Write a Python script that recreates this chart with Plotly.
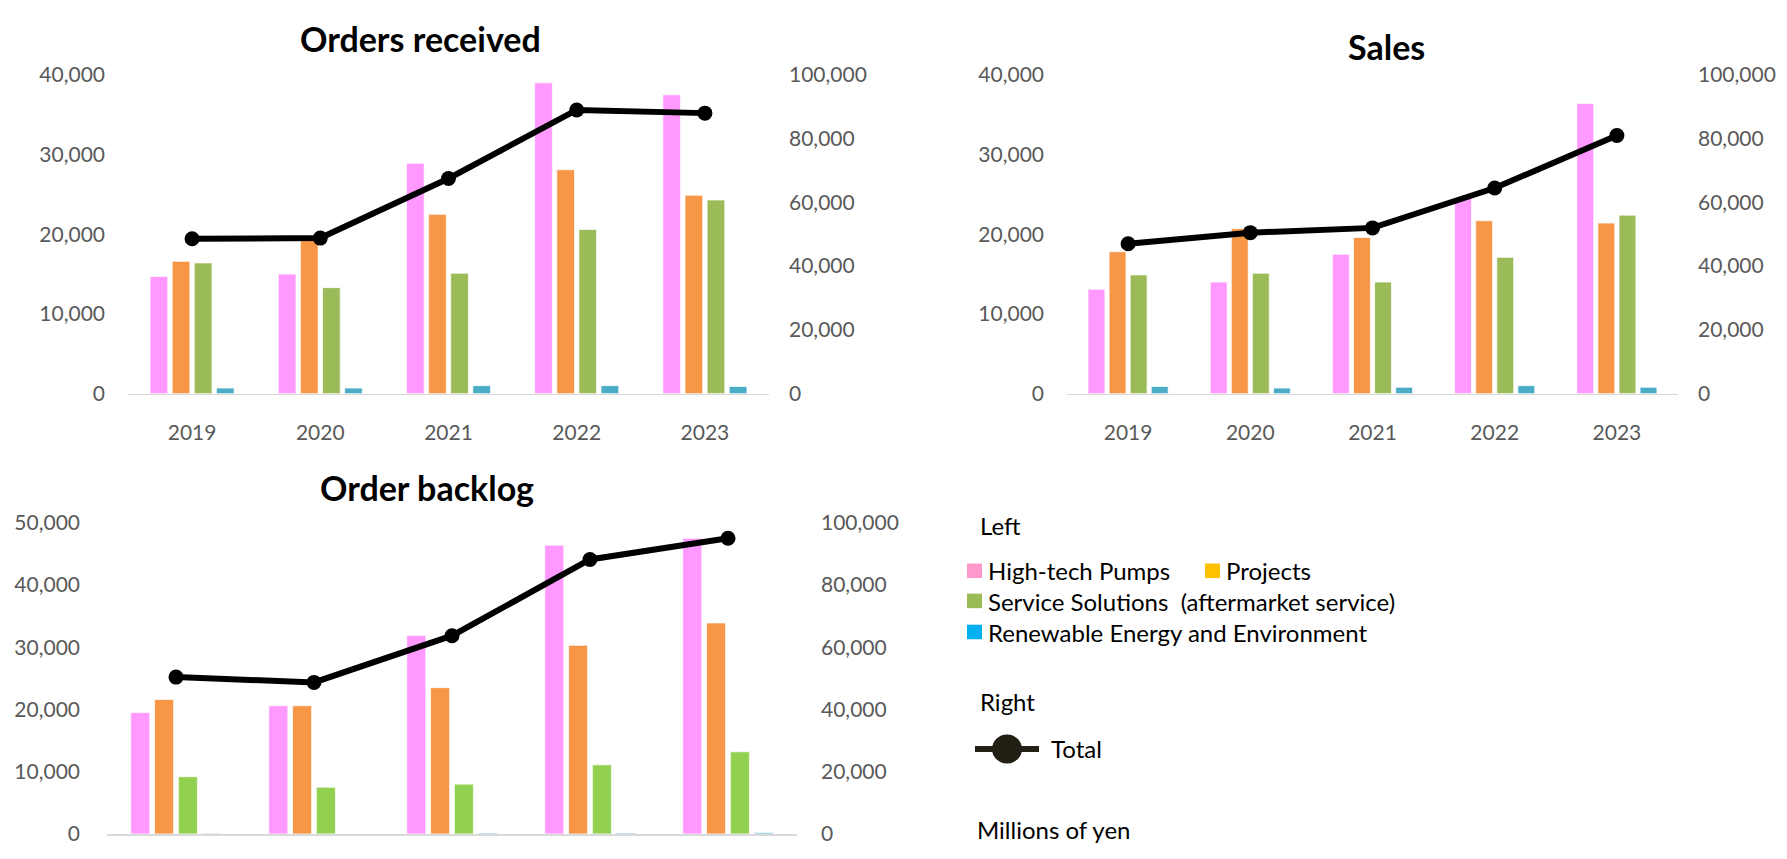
import plotly.graph_objects as go

W, H = 1787, 859

years = ["2019", "2020", "2021", "2022", "2023"]

# Orders received (millions of yen)
orders_pumps = [14700, 15000, 28900, 39000, 37500]
orders_projects = [16600, 19500, 22500, 28100, 24900]
orders_service = [16400, 13300, 15100, 20600, 24300]
orders_renew = [700, 700, 1000, 1000, 900]
orders_total = [48600, 48800, 67500, 89000, 88000]

# Sales
sales_pumps = [13100, 14000, 17500, 24500, 36400]
sales_projects = [17800, 20700, 19600, 21700, 21400]
sales_service = [14900, 15100, 14000, 17100, 22400]
sales_renew = [900, 700, 800, 1000, 800]
sales_total = [47000, 50500, 52000, 64500, 81000]

# Order backlog
backlog_pumps = [19500, 20600, 31900, 46400, 47500]
backlog_projects = [21600, 20600, 23500, 30300, 33900]
backlog_service = [9200, 7500, 8000, 11100, 13200]
backlog_renew = [100, 0, 150, 150, 200]
backlog_total = [50400, 48700, 63700, 88200, 95000]

titles = ["Orders received", "Sales", "Order backlog"]
legend_names = ["High-tech Pumps", "Projects", "Service Solutions  (aftermarket service)",
                "Renewable Energy and Environment"]

PINK = "#FF99FF"
ORANGE = "#F79646"
GREEN = "#9BBB59"
GREEN2 = "#92D050"
BLUE = "#4BACC6"
FONT = "Lato"
TICKC = "#595959"


def px(x):
    return x / W


def py(y):
    return 1 - y / H


fig = go.Figure()

charts = [
    dict(data=[orders_pumps, orders_projects, orders_service, orders_renew], total=orders_total,
         xa="x", ya="y", ya2="y2", colors=[PINK, ORANGE, GREEN, BLUE]),
    dict(data=[sales_pumps, sales_projects, sales_service, sales_renew], total=sales_total,
         xa="x2", ya="y3", ya2="y4", colors=[PINK, ORANGE, GREEN, BLUE]),
    dict(data=[backlog_pumps, backlog_projects, backlog_service, backlog_renew], total=backlog_total,
         xa="x3", ya="y5", ya2="y6", colors=[PINK, ORANGE, GREEN2, BLUE]),
]

for c in charts:
    for vals, col, nm in zip(c["data"], c["colors"], legend_names):
        fig.add_trace(go.Bar(x=years, y=vals, name=nm, xaxis=c["xa"], yaxis=c["ya"],
                             marker=dict(color=col, line=dict(color="rgba(255,255,255,0.7)", width=1)),
                             showlegend=False))
    fig.add_trace(go.Scatter(x=years, y=c["total"], name="Total", xaxis=c["xa"], yaxis=c["ya2"],
                             mode="lines+markers", line=dict(color="black", width=6),
                             marker=dict(color="black", size=15), showlegend=False, cliponaxis=False))

tickfont = dict(family=FONT, size=21, color=TICKC)


def xax(dom, labels=True, lw=1):
    return dict(domain=dom, type="category", range=[-0.5, 4.5], showline=True,
                linecolor="#D9D9D9", linewidth=lw, ticks="", showgrid=False, zeroline=False,
                showticklabels=labels, tickfont=tickfont, ticklabelstandoff=20, fixedrange=True)


def yax(dom, anchor, rng, dt, standoff, side="left", overlay=None):
    d = dict(domain=dom, anchor=anchor, range=rng, dtick=dt, tickformat=",", showgrid=False,
             zeroline=False, showline=False, ticks="", tickfont=tickfont, side=side,
             ticklabelstandoff=standoff, fixedrange=True)
    if overlay:
        d["overlaying"] = overlay
    return d


top_dom = [py(391), py(62.7)]
bot_dom = [py(844.5), py(524)]

fig.update_layout(
    width=W, height=H, autosize=False,
    margin=dict(l=0, r=0, t=0, b=0),
    paper_bgcolor="white", plot_bgcolor="rgba(0,0,0,0)",
    barmode="group", bargap=0.31, bargroupgap=0.2,
    font=dict(family=FONT),
    xaxis=dict(xax([px(128), px(769)]), anchor="y"),
    yaxis=yax(top_dom, "x", [0, 40000], 10000, 22),
    yaxis2=yax(top_dom, "x", [0, 100000], 20000, 19, side="right", overlay="y"),
    xaxis2=dict(xax([px(1067), px(1678)]), anchor="y3"),
    yaxis3=yax(top_dom, "x2", [0, 40000], 10000, 22),
    yaxis4=yax(top_dom, "x2", [0, 100000], 20000, 19, side="right", overlay="y3"),
    xaxis3=dict(xax([px(107), px(797)], labels=False, lw=2), anchor="y5"),
    yaxis5=yax(bot_dom, "x3", [0, 50000], 10000, 26),
    yaxis6=yax(bot_dom, "x3", [0, 100000], 20000, 23, side="right", overlay="y5"),
)

annotations = []
title_pos = [(420, 25), (1386, 33), (427, 488)]
for t, (x, y) in zip(titles, title_pos):
    annotations.append(dict(text="<b>" + t + "</b>", x=px(x), y=py(y), xref="paper", yref="paper",
                            xanchor="center", yanchor="middle", showarrow=False,
                            font=dict(family=FONT, size=34, color="black")))

shapes = []
LEG = dict(family=FONT, size=24, color="black")


def ltext(txt, x, y):
    annotations.append(dict(text=txt, x=px(x), y=py(y), xref="paper", yref="paper",
                            xanchor="left", yanchor="middle", showarrow=False, font=LEG))


def square(x, y, col):
    shapes.append(dict(type="rect", xref="paper", yref="paper", x0=px(x), x1=px(x + 15),
                       y0=py(y + 15), y1=py(y), fillcolor=col, line=dict(width=0)))


ltext("Left", 978, 527)
square(967, 566, "#FF99CC")
ltext(legend_names[0], 986, 573)
square(1205, 566, "#FFC000")
ltext(legend_names[1], 1224, 573)
square(967, 597, "#9BBB59")
ltext(legend_names[2], 986, 605)
square(967, 629, "#00B0F0")
ltext(legend_names[3], 986, 637)
ltext("Right", 978, 708)
shapes.append(dict(type="line", xref="paper", yref="paper", x0=px(975), x1=px(1039),
                   y0=py(757), y1=py(757), line=dict(color="#231F14", width=6)))
shapes.append(dict(type="circle", xref="paper", yref="paper", x0=px(992), x1=px(1022),
                   y0=py(772), y1=py(742), fillcolor="#231F14", line=dict(width=0)))
ltext("Total", 1049, 757)
ltext("Millions of yen", 975, 840)

fig.update_layout(annotations=annotations, shapes=shapes)

fig.write_html("out.html", config={"displayModeBar": False},
               post_script="document.body.style.margin='0';document.body.style.overflow='hidden';")
